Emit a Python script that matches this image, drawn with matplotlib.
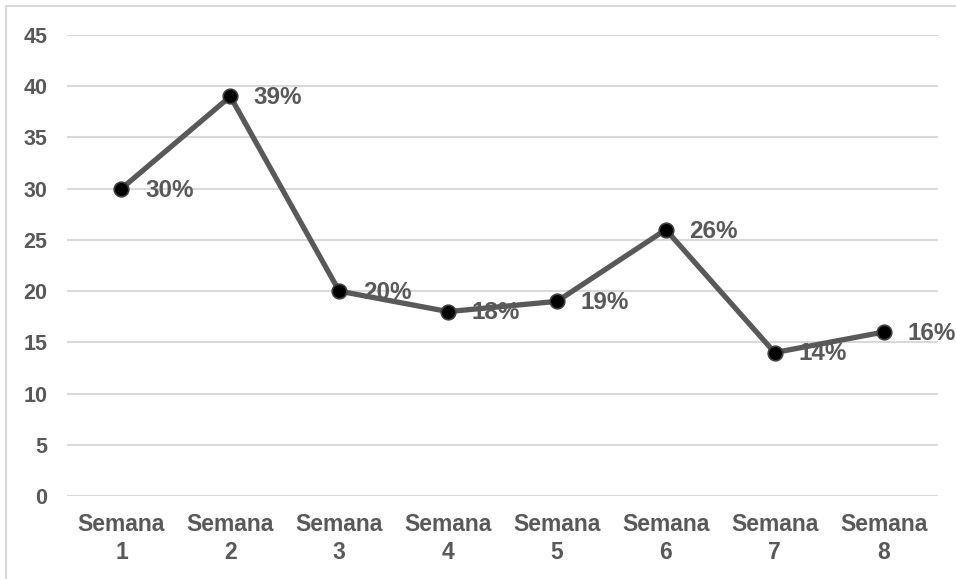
import matplotlib.pyplot as plt
from matplotlib.patches import Rectangle

categories = ["Semana\n1", "Semana\n2", "Semana\n3", "Semana\n4",
              "Semana\n5", "Semana\n6", "Semana\n7", "Semana\n8"]
values = [30, 39, 20, 18, 19, 26, 14, 16]
yticks = [0, 5, 10, 15, 20, 25, 30, 35, 40, 45]

plt.rcParams['font.family'] = ['Liberation Sans', 'DejaVu Sans']
text_color = "#595959"

fig = plt.figure(figsize=(9.56, 5.79), dpi=100)
ax = fig.add_axes([67 / 956, 1 - 496 / 579, 871 / 956, 461 / 579])

# outer frame of the chart area
fig.patches.append(Rectangle((6 / 956, -0.1), 1.2, 1 - 6 / 579 + 0.1,
                             transform=fig.transFigure, fill=False,
                             edgecolor="#d9d9d9", linewidth=1.5))

x = list(range(len(values)))
ax.plot(x, values, color=text_color, linewidth=3.8, zorder=3,
        marker="o", markersize=10.5, markerfacecolor="black",
        markeredgecolor="#404040", markeredgewidth=1.2)

for xi, v in zip(x, values):
    ax.annotate(f"{v}%", (xi, v), xytext=(17, -1), textcoords="offset points",
                ha="left", va="center", fontsize=17.5, fontweight="bold",
                color=text_color, zorder=4)

ax.set_xlim(-0.5, len(values) - 0.5)
ax.set_ylim(0, 45)
ax.set_yticks(yticks)
ax.set_xticks(x)
ax.set_xticklabels(categories, fontsize=16.5, fontweight="bold",
                   color=text_color, linespacing=1.3)
ax.set_yticklabels([str(t) for t in yticks], fontsize=15.5, fontweight="bold",
                   color=text_color)
ax.tick_params(axis="both", length=0)
ax.tick_params(axis="y", pad=14)
ax.tick_params(axis="x", pad=12)
ax.grid(axis="y", color="#d9d9d9", linewidth=1.5)
ax.set_axisbelow(True)
for s in ax.spines.values():
    s.set_visible(False)

fig.savefig("out.png", dpi=100)
